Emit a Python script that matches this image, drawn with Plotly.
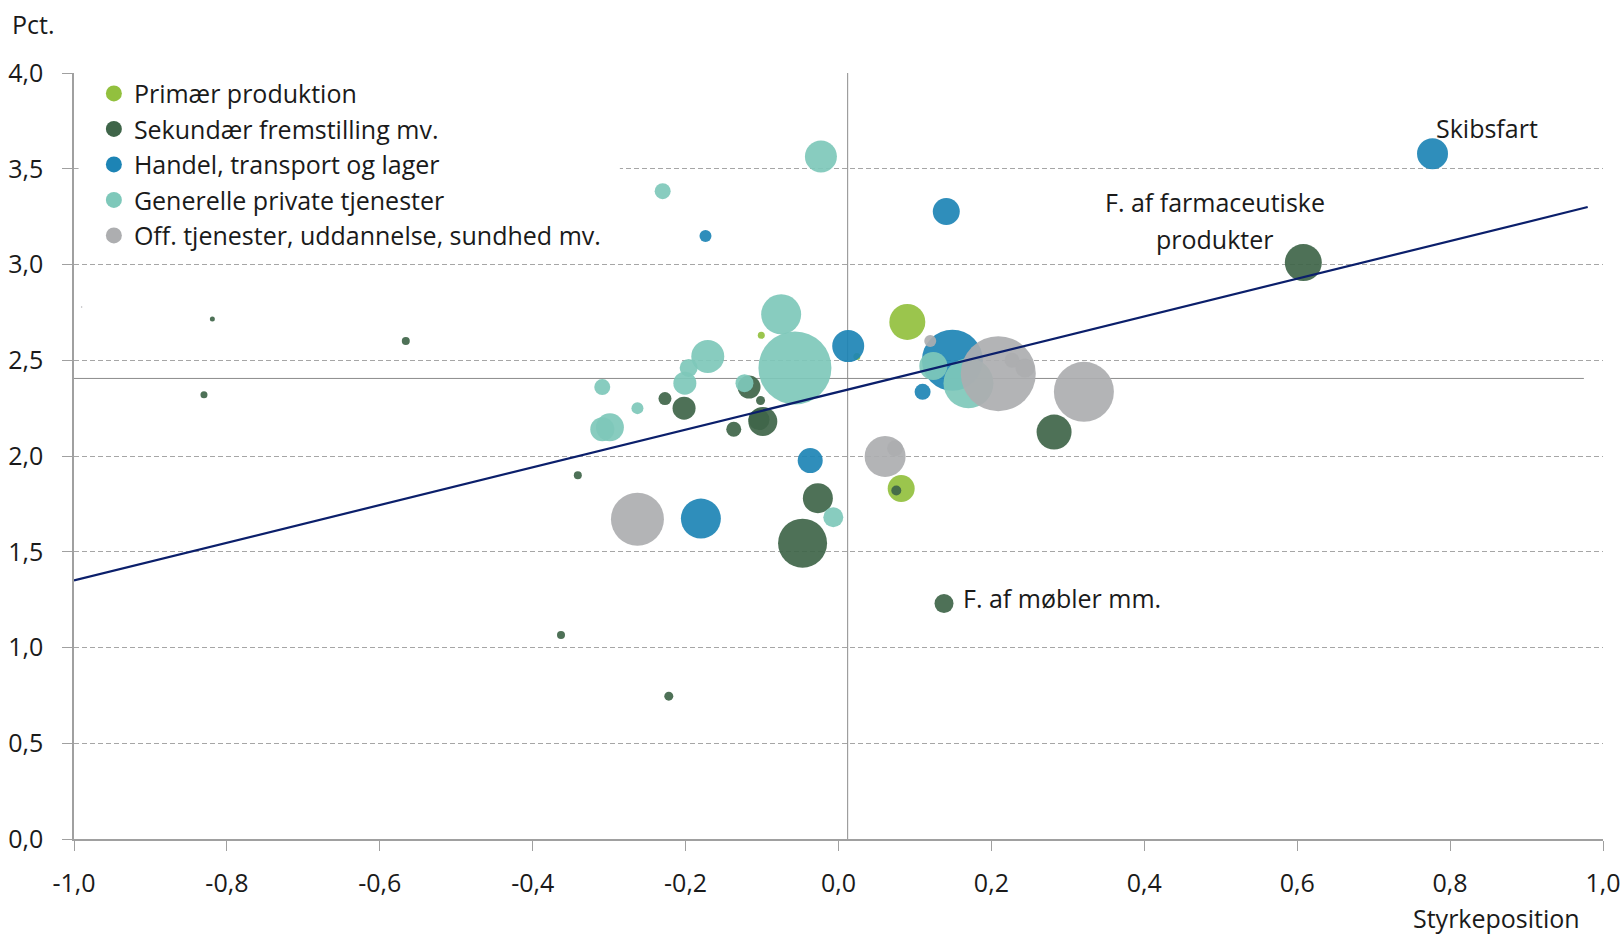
import plotly.graph_objects as go

# ---------------- data ----------------
categories = ["Primær produktion", "Sekundær fremstilling mv.", "Handel, transport og lager",
              "Generelle private tjenester", "Off. tjenester, uddannelse, sundhed mv."]
colors = ["#92c03e", "#3f6549", "#1d84b5", "#7ec8ba", "#adaeb0"]

prim_x = [0.090, 0.082, -0.101, 0.024]
prim_y = [2.70, 1.83, 2.63, 2.52]
prim_w = [36, 27, 7, 7]

sek_x = [-0.830, -0.819, -0.566, -0.341, -0.363, -0.222, -0.227, -0.202, -0.137, -0.117,
         -0.102, -0.099, -0.104, -0.027, -0.047, 0.0756, 0.282, 0.138, 0.608]
sek_y = [2.32, 2.715, 2.60, 1.90, 1.065, 0.746, 2.30, 2.25, 2.14, 2.36,
         2.29, 2.18, 2.19, 1.78, 1.545, 1.82, 2.125, 1.23, 3.01]
sek_w = [7, 5, 8, 8, 8, 9, 13, 23, 15, 23, 9, 29, 21, 30, 49, 10, 35, 19, 37]

han_x = [0.777, 0.141, -0.174, 0.0127, 0.149, 0.110, -0.037, -0.180]
han_y = [3.578, 3.277, 3.149, 2.574, 2.50, 2.335, 1.976, 1.673]
han_w = [31, 27, 12, 32, 61, 16, 25, 40]

gen_x = [-0.023, -0.230, -0.075, -0.171, -0.196, -0.201, -0.309, -0.263, -0.299, -0.309,
         -0.123, -0.057, 0.124, 0.170, -0.0068]
gen_y = [3.564, 3.383, 2.74, 2.52, 2.46, 2.38, 2.36, 2.25, 2.15, 2.14,
         2.38, 2.46, 2.47, 2.38, 1.68]
gen_w = [32, 16, 40, 33, 18, 23, 16, 12, 28, 24, 18, 73, 28, 50, 20]

off_x = [0.120, 0.209, 0.227, 0.244, 0.321, 0.061, 0.074, -0.263, -0.990]
off_y = [2.60, 2.43, 2.50, 2.46, 2.335, 1.998, 2.04, 1.67, 2.778]
off_w = [12, 75, 15, 19, 60, 41, 16, 53, 1.5]

series = [(prim_x, prim_y, prim_w), (sek_x, sek_y, sek_w), (han_x, han_y, han_w),
          (gen_x, gen_y, gen_w), (off_x, off_y, off_w)]

trend_x = [-1.0, 0.98]
trend_y = [1.35, 3.30]
mean_x = 0.012
mean_y = 2.405

x_ticks = [-1.0, -0.8, -0.6, -0.4, -0.2, 0.0, 0.2, 0.4, 0.6, 0.8, 1.0]
x_tick_labels = ["-1,0", "-0,8", "-0,6", "-0,4", "-0,2", "0,0", "0,2", "0,4", "0,6", "0,8", "1,0"]
y_ticks = [0.0, 0.5, 1.0, 1.5, 2.0, 2.5, 3.0, 3.5, 4.0]
y_tick_labels = ["0,0", "0,5", "1,0", "1,5", "2,0", "2,5", "3,0", "3,5", "4,0"]

labels = [("Skibsfart", 0.848, 3.711, "center"),
          ("F. af farmaceutiske", 0.492, 3.326, "center"),
          ("produkter", 0.492, 3.135, "center"),
          ("F. af møbler mm.", 0.160, 1.26, "left")]

FONT = "Open Sans"
FS = 25
TXT = "#1a1a1a"
fig = go.Figure()

# reference lines
fig.add_trace(go.Scatter(x=[mean_x, mean_x], y=[0, 4], mode="lines",
                         line=dict(color="#8c8c8c", width=1), showlegend=False, hoverinfo="skip"))
fig.add_trace(go.Scatter(x=[-1.005, 0.975], y=[mean_y, mean_y], mode="lines",
                         line=dict(color="#8c8c8c", width=1), showlegend=False, hoverinfo="skip"))

# bubbles
for name, col, (sx, sy, sw) in zip(categories, colors, series):
    fig.add_trace(go.Scatter(
        x=sx, y=sy, mode="markers", name=name, showlegend=False,
        marker=dict(size=sw, sizemode="diameter", sizeref=1, color=col,
                    opacity=0.92, line=dict(width=0)),
    ))

# trend line
fig.add_trace(go.Scatter(x=trend_x, y=trend_y, mode="lines",
                         line=dict(color="#0b1f6b", width=2.2), showlegend=False, hoverinfo="skip"))

# legend entries
for i, (name, col) in enumerate(zip(categories, colors)):
    fig.add_trace(go.Scatter(x=[None], y=[None], mode="markers", name=name,
                             legendgroup=f"g{i}",
                             marker=dict(size=16, color=col)))

for text, lx, ly, al in labels:
    fig.add_annotation(x=lx, y=ly, text=text, showarrow=False, xanchor=al,
                       font=dict(family=FONT, size=FS, color=TXT))

fig.add_annotation(xref="paper", yref="paper", x=-0.042, y=1.0645, xanchor="left", yanchor="middle",
                   text="Pct.", showarrow=False, font=dict(family=FONT, size=FS, color=TXT))
fig.add_annotation(xref="paper", yref="paper", x=0.986, y=-0.103, xanchor="right", yanchor="middle",
                   text="Styrkeposition", showarrow=False,
                   font=dict(family=FONT, size=FS, color=TXT))

# white backing behind the legend (hides the 3,5 gridline there, as in the original)
fig.add_shape(type="rect", xref="paper", yref="paper", x0=0.003, x1=0.357, y0=0.862, y1=0.888,
              fillcolor="white", line=dict(width=0), layer="above")

fig.update_layout(
    width=1624, height=936,
    margin=dict(l=73.5, r=21, t=72.5, b=97),
    paper_bgcolor="white", plot_bgcolor="white",
    font=dict(family=FONT, size=FS, color=TXT),
    legend=dict(x=0.013, y=1.003, xanchor="left", yanchor="top", bgcolor="rgba(0,0,0,0)",
                font=dict(family=FONT, size=FS, color=TXT),
                tracegroupgap=0, itemsizing="trace"),
    xaxis=dict(range=[-1, 1], tickvals=x_ticks, ticktext=x_tick_labels, showgrid=False, zeroline=False,
               showline=True, linecolor="#a0a0a0", linewidth=1.5, ticks="outside", ticklen=10,
               tickcolor="#a0a0a0", ticklabelstandoff=11, automargin=False),
    yaxis=dict(range=[0, 4], tickvals=y_ticks, ticktext=y_tick_labels, showgrid=True, gridcolor="#a6a6a6",
               griddash="5px,3px", gridwidth=1, zeroline=False,
               showline=True, linecolor="#a0a0a0", linewidth=1.5, ticks="outside", ticklen=10,
               tickcolor="#a0a0a0", ticklabelstandoff=14, automargin=False),
)

fig.write_html("out.html", config={"displayModeBar": False},
               post_script="document.body.style.margin='0';")
